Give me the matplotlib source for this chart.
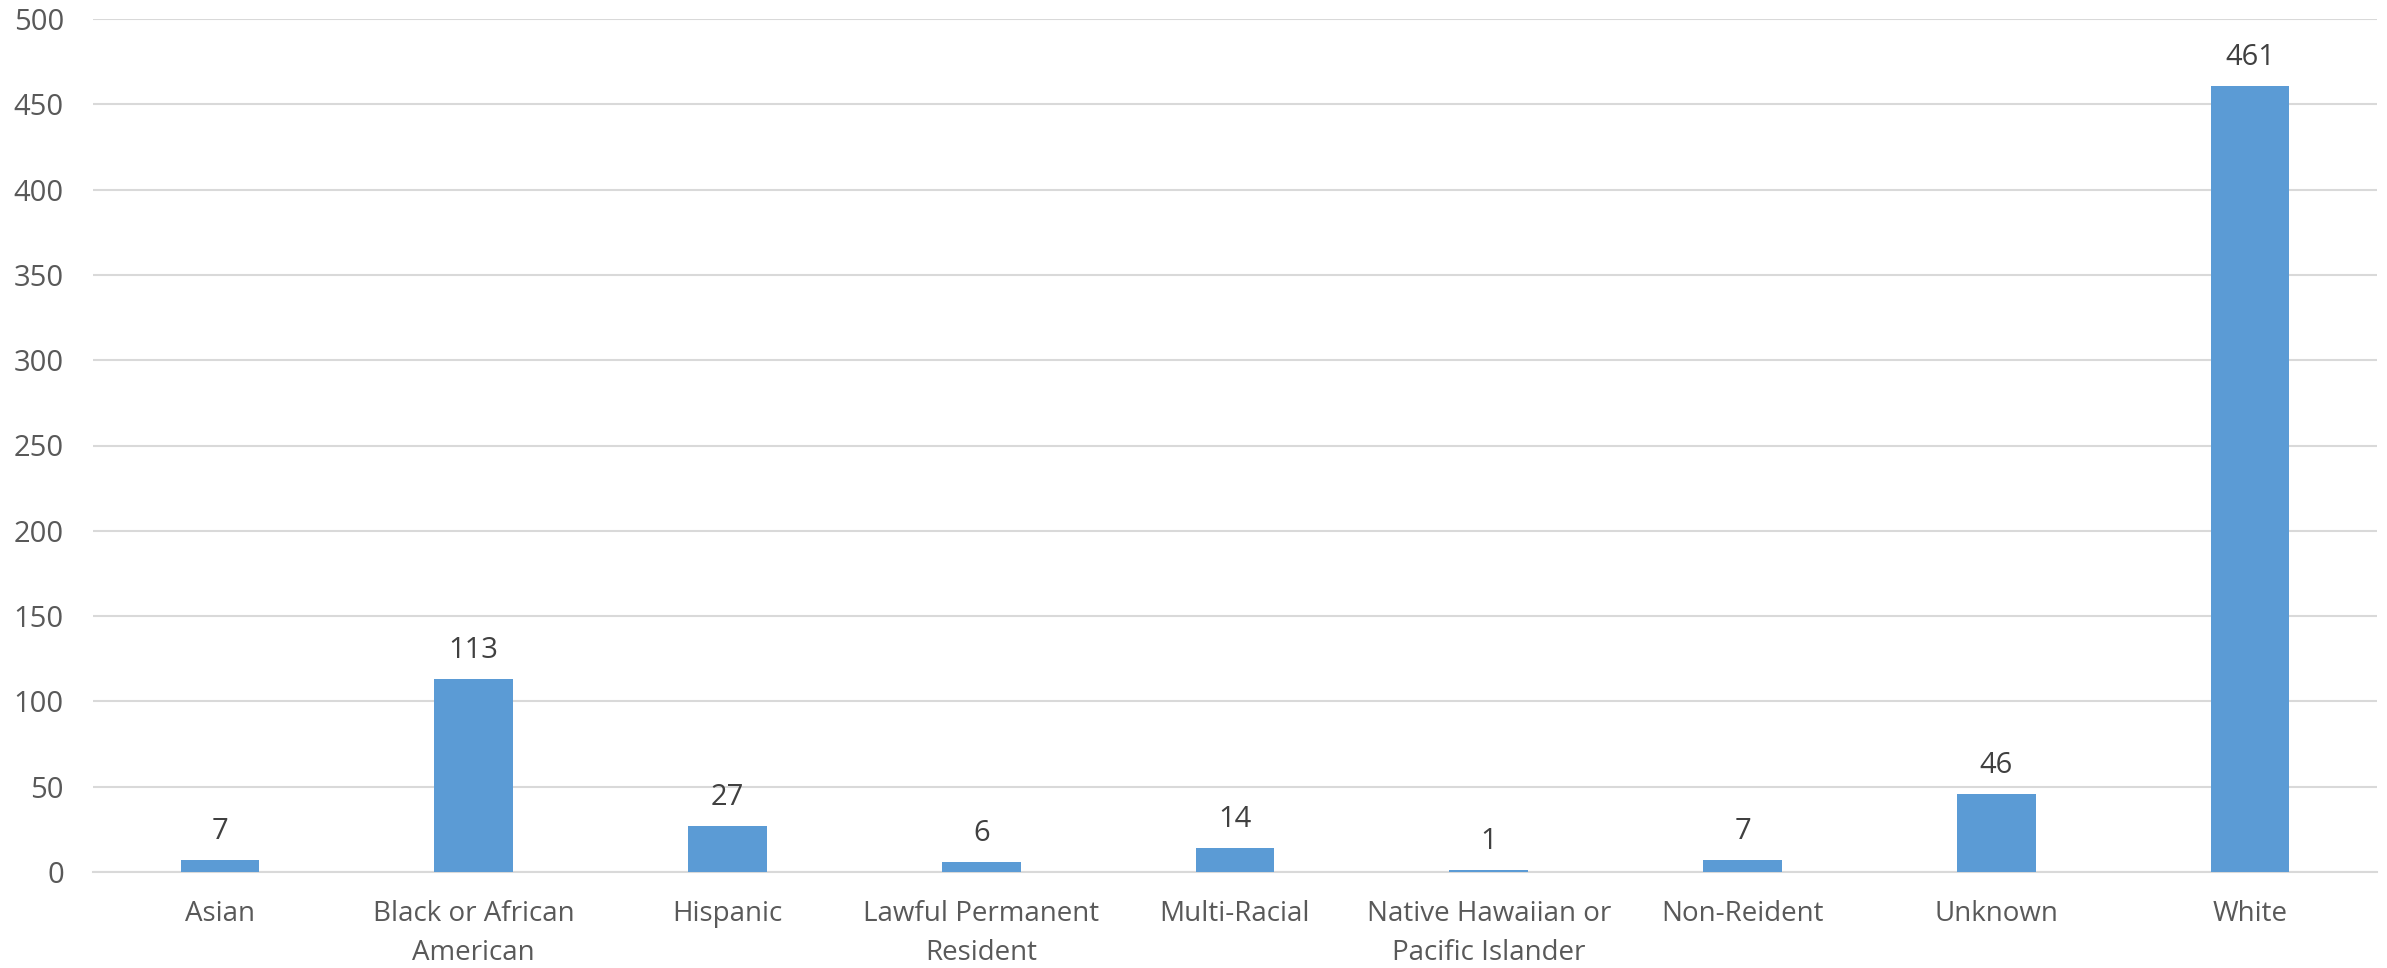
import matplotlib
matplotlib.use("Agg")
import matplotlib.pyplot as plt

categories = ["Asian", "Black or African\nAmerican", "Hispanic", "Lawful Permanent\nResident",
              "Multi-Racial", "Native Hawaiian or\nPacific Islander", "Non-Reident", "Unknown", "White"]
values = [7, 113, 27, 6, 14, 1, 7, 46, 461]
yticks = [0, 50, 100, 150, 200, 250, 300, 350, 400, 450, 500]

plt.rcParams['font.family'] = ['Open Sans', 'DejaVu Sans']

fig = plt.figure(figsize=(23.87, 9.68), dpi=100)
ax = fig.add_axes([93/2387, 1-872/968, (2377-93)/2387, (872-19)/968])

x = list(range(len(categories)))
ax.bar(x, values, width=0.31, color='#5b9bd5', zorder=3)
for xi, v in zip(x, values):
    ax.annotate(str(v), (xi, v), xytext=(0, 10), textcoords='offset points',
                ha='center', va='bottom', fontsize=21, color='#404040')

ax.set_xlim(-0.5, len(categories)-0.5)
ax.set_ylim(0, 500)
ax.set_yticks(yticks)
ax.set_yticklabels([str(t) for t in yticks], fontsize=21, color='#595959')
ax.set_xticks(x)
ax.set_xticklabels(categories, fontsize=20, color='#595959', linespacing=1.55)
ax.tick_params(axis='both', length=0)
ax.tick_params(axis='y', pad=21)
ax.tick_params(axis='x', pad=20)
ax.grid(axis='y', color='#d9d9d9', linewidth=1.5, zorder=0)
for s in ['top', 'right', 'left']:
    ax.spines[s].set_visible(False)
ax.spines['bottom'].set_color('#d9d9d9')
ax.spines['bottom'].set_linewidth(1.5)

fig.savefig('out.png', dpi=100)
